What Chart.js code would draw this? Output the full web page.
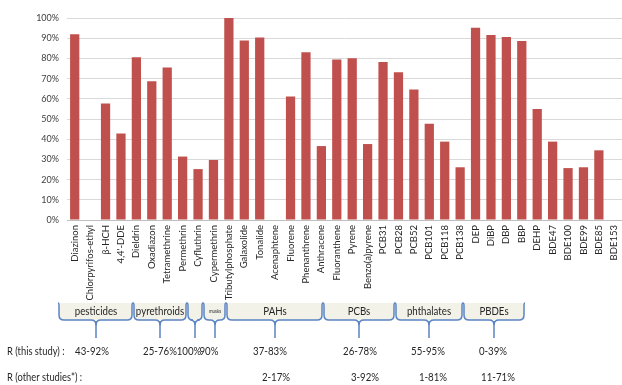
<!DOCTYPE html>
<html>
<head>
<meta charset="utf-8">
<script src="https://cdn.jsdelivr.net/npm/chart.js@4.4.0/dist/chart.umd.min.js"></script>
<style>
  html, body { margin: 0; padding: 0; background: #fff; }
  #wrap { width: 622px; height: 385px; position: relative; }
</style>
</head>
<body>
<div id="wrap"><canvas id="chartRecovery" width="622" height="385"></canvas></div>
<script>
// compounds on the x axis
const compounds = [
  "Diazinon", "Chlorpyrifos-ethyl", "β-HCH", "4,4'-DDE", "Dieldrin", "Oxadiazon",
  "Tetramethrine", "Permethrin", "Cyfluthrin", "Cypermethrin",
  "Tributylphosphate",
  "Galaxolide", "Tonalide",
  "Acenaphtene", "Fluorene", "Phenanthrene", "Anthracene", "Fluoranthene", "Pyrene", "Benzo(a)pyrene",
  "PCB31", "PCB28", "PCB52", "PCB101", "PCB118", "PCB138",
  "DEP", "DiBP", "DBP", "BBP", "DEHP",
  "BDE47", "BDE100", "BDE99", "BDE85", "BDE153"
];

// recovery (%)
const recovery = [
  92, 0, 57.7, 42.8, 80.6, 68.7,
  75.5, 31.4, 25.2, 29.7,
  100,
  88.9, 90.4,
  0, 61.1, 83.1, 36.6, 79.5, 80.1, 37.6,
  78.2, 73.2, 64.6, 47.7, 38.8, 26.1,
  95.2, 91.6, 90.6, 88.6, 55,
  38.8, 25.7, 26.1, 34.5, 0
];

const yTicks = [0, 10, 20, 30, 40, 50, 60, 70, 80, 90, 100];

// compound families shown under the axis
const groupNames = ["pesticides", "pyrethroids", "", "musks", "PAHs", "PCBs", "phthalates", "PBDEs"];
const rangeThisStudy = ["43-92%", "25-76%", "100%", "90%", "37-83%", "26-78%", "55-95%", "0-39%"];
const rangeOtherStudies = ["", "", "", "", "2-17%", "3-92%", "1-81%", "11-71%"];

// brace layout (pixels) for the drawn legend strip
const braceSpans = [[59, 132], [134, 186], [188, 202], [204, 225], [227, 322], [324, 394], [396, 462], [464, 524]];
const thisStudyX = [92, 160, 189, 209, 270, 360, 428, 493];
const otherStudiesX = [92, 160, 189, 209, 276, 365, 433, 498];

const FONT = "Lato, 'Open Sans', sans-serif";

// narrow text, Calibri-like
function narrowText(ctx, text, x, y, squeeze) {
  ctx.save();
  ctx.translate(x, y);
  ctx.scale(squeeze, 1);
  ctx.fillText(text, 0, 0);
  ctx.restore();
}

const bracePlugin = {
  id: "braces",
  afterDraw(chart) {
    const ctx = chart.ctx;
    const top = 303, base = 320, tip = 338, r = 5;
    ctx.save();
    braceSpans.forEach(([x0, x1], i) => {
      const xm = Math.round((x0 + x1) / 2);
      ctx.fillStyle = "#F3F2E9";
      ctx.fillRect(x0, top, x1 - x0, base - top);
      ctx.strokeStyle = "#5B84C4";
      ctx.lineWidth = 1.5;
      ctx.beginPath();
      ctx.moveTo(x0 - 1, top);
      ctx.quadraticCurveTo(x0, top, x0, top + 3);
      ctx.lineTo(x0, base - r);
      ctx.quadraticCurveTo(x0, base, x0 + r, base);
      ctx.lineTo(xm - r, base);
      ctx.quadraticCurveTo(xm, base, xm, base + r);
      ctx.quadraticCurveTo(xm, base, xm + r, base);
      ctx.lineTo(x1 - r, base);
      ctx.quadraticCurveTo(x1, base, x1, base - r);
      ctx.lineTo(x1, top + 3);
      ctx.quadraticCurveTo(x1, top, x1 + 1, top);
      ctx.stroke();
      // tip of the brace
      ctx.fillStyle = "#5B84C4";
      ctx.fillRect(xm - 0.75, base + 1, 1.5, tip - base - 1);

      if (groupNames[i]) {
        ctx.fillStyle = "#262626";
        ctx.textAlign = "center";
        ctx.textBaseline = "middle";
        ctx.font = (groupNames[i] === "musks" ? "5px " : "11px ") + FONT;
        narrowText(ctx, groupNames[i], xm, 311, 0.88);
      }
    });

    ctx.fillStyle = "#262626";
    ctx.font = "11px " + FONT;
    ctx.textBaseline = "middle";
    ctx.textAlign = "left";
    narrowText(ctx, "R (this study) :", 7, 351, 0.85);
    narrowText(ctx, "R (other studies*) :", 7, 377, 0.85);
    ctx.textAlign = "center";
    rangeThisStudy.forEach((t, i) => { if (t) narrowText(ctx, t, thisStudyX[i], 351, 0.88); });
    rangeOtherStudies.forEach((t, i) => { if (t) narrowText(ctx, t, otherStudiesX[i], 377, 0.88); });
    ctx.restore();
  }
};

function drawRecovery() {
  const canvas = document.getElementById("chartRecovery");
  const ctx = canvas.getContext("2d");

  const config = {
    type: "bar",
    data: {
      labels: compounds,
      datasets: [
        {
          label: "R",
          data: recovery,
          backgroundColor: "#C0504D",
          borderWidth: 0,
          categoryPercentage: 1,
          barPercentage: 0.6,
        }
      ]
    },
    options: {
      responsive: false,
      animation: false,
      layout: { padding: { top: 18, left: 0, right: 0, bottom: 0 } },
      plugins: {
        legend: { display: false },
        tooltip: { enabled: false }
      },
      scales: {
        x: {
          grid: { display: false, drawTicks: false },
          border: { color: "#BFBFBF", width: 1 },
          ticks: {
            autoSkip: false,
            minRotation: 90,
            maxRotation: 90,
            padding: 5,
            color: "#262626",
            font: { family: FONT, size: 9.5 },
          },
          afterFit: (scale) => {
            scale.height = 165;
            scale.paddingLeft = 0;
            scale.paddingRight = 0;
          }
        },
        y: {
          min: 0,
          max: 100,
          afterBuildTicks: (scale) => { scale.ticks = yTicks.map(v => ({ value: v })); },
          grid: { color: "#D9D9D9", lineWidth: 1, drawTicks: false },
          border: { display: false },
          ticks: {
            padding: 8,
            color: "#404040",
            font: { family: FONT, size: 9 },
            callback: value => value + "%",
          },
          afterFit: (scale) => {
            scale.width = 67;
            scale.paddingTop = 0;
            scale.paddingBottom = 0;
          }
        }
      }
    },
    plugins: [bracePlugin]
  };

  return new Chart(ctx, config);
}

drawRecovery();
</script>
</body>
</html>
